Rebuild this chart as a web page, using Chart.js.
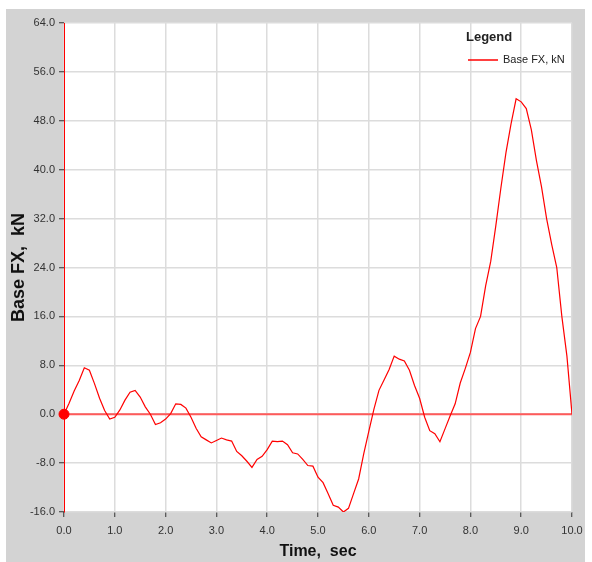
<!DOCTYPE html>
<html>
<head>
<meta charset="utf-8">
<script src="https://cdn.jsdelivr.net/npm/chart.js@4.4.1/dist/chart.umd.min.js"></script>
<style>
  html, body { margin: 0; padding: 0; background: #ffffff; }
  #frame { position: absolute; left: 6px; top: 9px; width: 579px; height: 553px; background: #d3d3d3; }
  canvas { display: block; }
</style>
</head>
<body>
<div id="frame"><canvas id="myChart" width="579" height="553"></canvas></div>
<script>
//Datos
const tiempo = [0.0, 0.1, 0.2, 0.3, 0.4, 0.5, 0.6, 0.7, 0.8, 0.9,
  1.0, 1.1, 1.2, 1.3, 1.4, 1.5, 1.6, 1.7, 1.8, 1.9,
  2.0, 2.1, 2.2, 2.3, 2.4, 2.5, 2.6, 2.7, 2.8, 2.9,
  3.0, 3.1, 3.2, 3.3, 3.4, 3.5, 3.6, 3.7, 3.8, 3.9,
  4.0, 4.1, 4.2, 4.3, 4.4, 4.5, 4.6, 4.7, 4.8, 4.9,
  5.0, 5.1, 5.2, 5.3, 5.4, 5.5, 5.6, 5.7, 5.8, 5.9,
  6.0, 6.1, 6.2, 6.3, 6.4, 6.5, 6.6, 6.7, 6.8, 6.9,
  7.0, 7.1, 7.2, 7.3, 7.4, 7.5, 7.6, 7.7, 7.8, 7.9,
  8.0, 8.1, 8.2, 8.3, 8.4, 8.5, 8.6, 8.7, 8.8, 8.9,
  9.0, 9.1, 9.2, 9.3, 9.4, 9.5, 9.6, 9.7, 9.8, 9.9, 10.0]
const baseFX = [0.0, 1.8, 3.8, 5.5, 7.6, 7.2, 5.0, 2.6, 0.6, -0.8,
  -0.5, 0.7, 2.3, 3.6, 3.9, 2.8, 1.2, 0.0, -1.7, -1.4,
  -0.8, 0.1, 1.7, 1.6, 1.0, -0.5, -2.3, -3.7, -4.2, -4.7,
  -4.3, -3.9, -4.2, -4.4, -6.1, -6.8, -7.7, -8.7, -7.4, -6.9,
  -5.8, -4.4, -4.5, -4.4, -5.0, -6.3, -6.5, -7.4, -8.4, -8.5,
  -10.3, -11.2, -13.0, -14.9, -15.2, -16.0, -15.4, -13.0, -10.6, -6.5,
  -2.8, 0.8, 3.9, 5.6, 7.3, 9.5, 9.0, 8.7, 7.2, 4.7,
  2.6, -0.5, -2.7, -3.2, -4.5, -2.4, -0.3, 1.7, 5.1, 7.5,
  10.1, 14.0, 16.0, 21.0, 25.0, 30.8, 37.0, 42.8, 47.5, 51.6,
  51.1, 50.0, 46.5, 41.5, 37.2, 32.0, 27.8, 24.0, 16.0, 9.5, 0.0]
const lineaCero = [0.0, 0.0]
const tiempoCero = [0.0, 10.0]
const etiqueta = 'Base FX, kN'

const fuente = "'Liberation Sans', Arial, sans-serif"

// Fondo blanco del area de la grafica
const fondoBlanco = {
  id: 'fondoBlanco',
  beforeDraw(chart) {
    const { ctx, chartArea } = chart
    ctx.save()
    ctx.fillStyle = '#ffffff'
    ctx.fillRect(chartArea.left, chartArea.top, chartArea.right - chartArea.left, chartArea.bottom - chartArea.top)
    ctx.restore()
  }
}

// Leyenda dibujada a mano
const leyenda = {
  id: 'leyenda',
  afterDraw(chart) {
    const ctx = chart.ctx
    const ds = chart.data.datasets[0]
    ctx.save()
    ctx.textBaseline = 'middle'
    ctx.textAlign = 'left'
    ctx.fillStyle = '#222222'
    ctx.font = "bold 13px " + fuente
    ctx.fillText('Legend', 460, 28)
    ctx.strokeStyle = ds.borderColor
    ctx.lineWidth = 1.5
    ctx.beginPath()
    ctx.moveTo(462, 51)
    ctx.lineTo(492, 51)
    ctx.stroke()
    ctx.font = "11px " + fuente
    ctx.fillText(ds.label, 497, 51)
    ctx.restore()
  }
}

const charti = document.getElementById('myChart')

new Chart(charti, {
  type: 'scatter',
  data: {
    datasets: [
      {
        label: etiqueta,
        data: tiempo.map((t, i) => ({ x: t, y: baseFX[i] })),
        showLine: true,
        borderColor: '#ff0000',
        borderWidth: 1.2,
        pointRadius: 0,
        tension: 0,
        order: 2
      },
      {
        label: 'cero',
        data: tiempoCero.map((t, i) => ({ x: t, y: lineaCero[i] })),
        showLine: true,
        borderColor: '#ff5a5a',
        borderWidth: 2,
        pointRadius: 0,
        order: 3
      },
      {
        label: 'inicio',
        data: [{ x: tiempo[0], y: baseFX[0] }],
        backgroundColor: '#ff0000',
        borderColor: '#ff0000',
        pointRadius: 5,
        clip: false,
        order: 1
      }
    ]
  },
  options: {
    responsive: false,
    animation: false,
    layout: { padding: { top: 14, right: 13, left: 0, bottom: 0 } },
    plugins: {
      legend: { display: false },
      tooltip: { enabled: false }
    },
    scales: {
      x: {
        type: 'linear',
        min: 0,
        max: 10,
        afterFit: (scale) => {
          scale.height = 50
          scale.paddingLeft = 0
          scale.paddingRight = 0
        },
        ticks: {
          stepSize: 1,
          padding: 7,
          color: '#333333',
          font: { family: fuente, size: 11 },
          callback: (value) => value.toFixed(1)
        },
        grid: {
          color: '#dcdcdc',
          lineWidth: 1.5,
          tickColor: '#333333',
          tickWidth: 1,
          tickLength: 5
        },
        border: { display: false },
        title: {
          display: true,
          text: 'Time,  sec',
          color: '#111111',
          font: { family: fuente, size: 16, weight: 'bold' },
          padding: { top: 0, bottom: 1 }
        }
      },
      y: {
        min: -16,
        max: 64,
        afterFit: (scale) => {
          scale.width = 58
          scale.paddingTop = 0
          scale.paddingBottom = 0
        },
        ticks: {
          stepSize: 8,
          padding: 4,
          color: '#333333',
          font: { family: fuente, size: 11 },
          callback: (value) => value.toFixed(1)
        },
        grid: {
          color: '#dcdcdc',
          lineWidth: 1.5,
          tickColor: '#333333',
          tickWidth: 1,
          tickLength: 5
        },
        border: { display: true, color: '#ff0000', width: 1 },
        title: {
          display: true,
          text: 'Base FX,  kN',
          color: '#111111',
          font: { family: fuente, size: 18, weight: 'bold' },
          padding: { top: 2, bottom: 0 }
        }
      }
    }
  },
  plugins: [fondoBlanco, leyenda]
})
</script>
</body>
</html>
